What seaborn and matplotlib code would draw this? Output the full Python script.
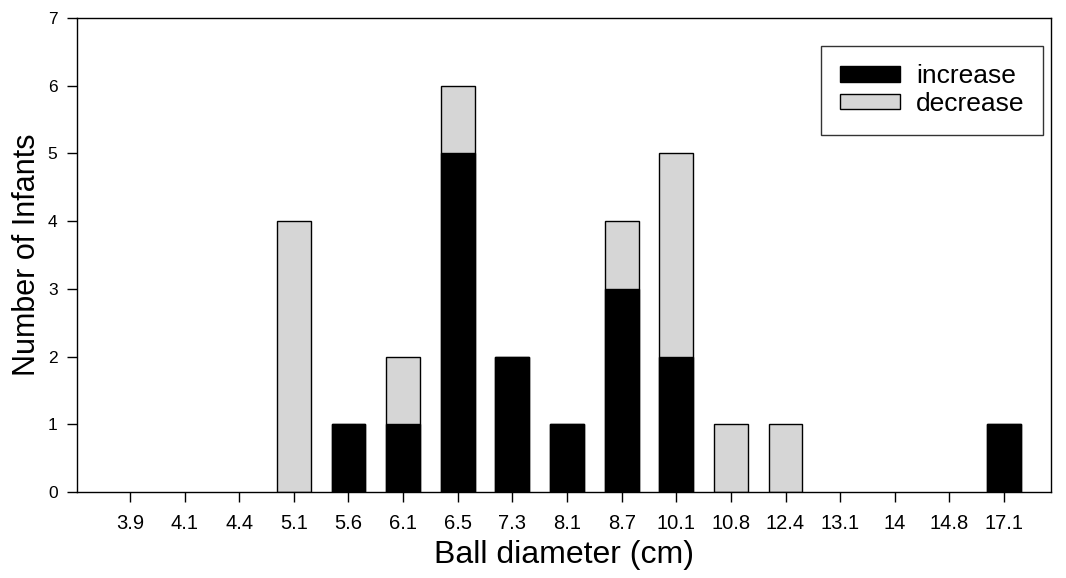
import matplotlib.pyplot as plt
import pandas as pd
import seaborn as sns
from matplotlib.patches import Patch

# Datos
diameters = ['3.9', '4.1', '4.4', '5.1', '5.6', '6.1', '6.5', '7.3', '8.1',
             '8.7', '10.1', '10.8', '12.4', '13.1', '14', '14.8', '17.1']
increase = [0, 0, 0, 0, 1, 1, 5, 2, 1, 3, 2, 0, 0, 0, 0, 0, 1]
decrease = [0, 0, 0, 4, 0, 1, 1, 0, 0, 1, 3, 1, 1, 0, 0, 0, 0]

df = pd.DataFrame({'diameter': diameters, 'increase': increase, 'decrease': decrease})
df['total'] = df['increase'] + df['decrease']

sns.set_style('white')
plt.rcParams['font.family'] = ['Liberation Sans', 'DejaVu Sans']
plt.rcParams['text.color'] = 'black'
plt.rcParams['axes.labelcolor'] = 'black'
plt.rcParams['xtick.color'] = 'black'
plt.rcParams['ytick.color'] = 'black'

fig = plt.figure(figsize=(10.66, 5.78), dpi=100)
ax = fig.add_axes([0.0722, 0.1488, 0.9138, 0.8202])

# Barras apiladas: total (gris) debajo, aumento (negro) encima
sns.barplot(data=df, x='diameter', y='total', order=diameters, color='#d6d6d6',
            edgecolor='black', linewidth=1, width=0.62, saturation=1, ax=ax)
sns.barplot(data=df, x='diameter', y='increase', order=diameters, color='black',
            edgecolor='black', linewidth=1, width=0.62, saturation=1, ax=ax)

# Ocultar barras de altura cero
for p in ax.patches:
    if p.get_height() == 0:
        p.set_visible(False)

ax.set_xlim(-0.97, 16.86)
ax.set_ylim(0, 7)
ax.set_yticks(range(0, 8))
ax.set_xlabel('Ball diameter (cm)', fontsize=23, labelpad=5)
ax.set_ylabel('Number of Infants', fontsize=22, labelpad=4)
ax.tick_params(axis='x', labelsize=14.5, direction='out', length=7, width=1,
               bottom=True, pad=9, colors='black')
ax.tick_params(axis='y', labelsize=12.5, direction='out', length=7, width=1,
               left=True, pad=7, colors='black')

for s in ax.spines.values():
    s.set_color('black')
    s.set_linewidth(1)

handles = [Patch(facecolor='black', edgecolor='black', label='increase'),
           Patch(facecolor='#d6d6d6', edgecolor='black', label='decrease')]
leg = ax.legend(handles=handles, loc='upper right', bbox_to_anchor=(0.992, 0.941),
                borderaxespad=0, fontsize=19, frameon=True, fancybox=False,
                edgecolor='black', handlelength=2.3, handleheight=0.5,
                handletextpad=0.6, borderpad=0.7, labelspacing=0.15)
leg.get_frame().set_linewidth(1)

fig.savefig('out.png', dpi=100)
